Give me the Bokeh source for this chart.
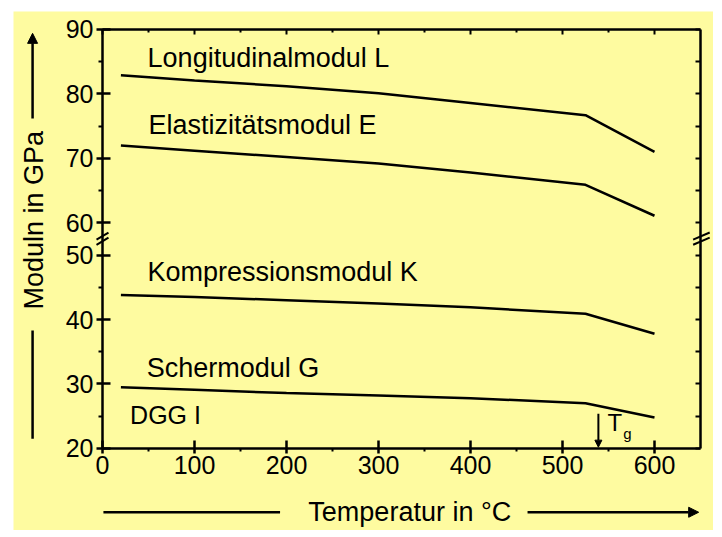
import math
from bokeh.plotting import figure
from bokeh.models import (LinearAxis, FixedTicker, Arrow, NormalHead, Label,
                          ColumnDataSource, Range1d)
from bokeh.embed import file_html
from bokeh.resources import INLINE

# ---------------- data ----------------
temperature = [20, 100, 200, 300, 400, 525, 600]
longitudinal_L = [82.9, 82.1, 81.2, 80.1, 78.6, 76.7, 71.0]
elastic_E = [72.0, 71.2, 70.2, 69.2, 67.8, 65.9, 61.1]
compression_K = [43.8, 43.5, 43.0, 42.5, 41.9, 40.9, 37.8]
shear_G = [29.5, 29.1, 28.6, 28.2, 27.8, 27.0, 24.8]

series_names = ["Longitudinalmodul L", "Elastizitätsmodul E",
                "Kompressionsmodul K", "Schermodul G"]
sample_name = "DGG I"
tg_temperature = 539

x_ticks = [0, 100, 200, 300, 400, 500, 600]
x_minor = [50, 150, 250, 350, 450, 550]
y_ticks = [20, 30, 40, 50, 60, 70, 80, 90]
y_minor = [25, 35, 45, 65, 75, 85]

X_MIN, X_MAX = 0, 650
Y_MIN, Y_MAX = 20, 90

# broken y axis: 50 .. 60 is compressed into a small gap
BREAK_LOW, BREAK_HIGH, GAP = 50, 60, 5


def brk(v):
    return v if v <= BREAK_LOW else v - (BREAK_HIGH - BREAK_LOW) + GAP


FONT = "Liberation Sans"
BG = "#FEFBA0"
INK = "black"

# The frame spans the whole canvas; the axes are pinned at the data
# extent (fixed_location) so that titles and arrows can be drawn around them.
p = figure(width=700, height=519, margin=(11, 0, 0, 13),
           x_range=Range1d(-96.74, 664.13), y_range=Range1d(7.27, 87.79),
           output_backend="svg", toolbar_location=None,
           background_fill_color=BG, border_fill_color=BG,
           min_border=0, min_border_left=0, min_border_right=0,
           min_border_top=0, min_border_bottom=0)
p.title.visible = False
p.outline_line_color = None
p.xgrid.visible = False
p.ygrid.visible = False

AX_W = 2.5
y_tick_pos = [brk(t) for t in y_ticks]
y_minor_pos = [brk(t) for t in y_minor]

# left axis
ya = p.yaxis[0]
ya.fixed_location = X_MIN
ya.bounds = (brk(Y_MIN), brk(Y_MAX))
ya.ticker = FixedTicker(ticks=y_tick_pos, minor_ticks=y_minor_pos)
ya.major_label_overrides = {brk(t): str(t) for t in y_ticks}
ya.axis_line_width = AX_W
ya.major_tick_line_width = AX_W
ya.minor_tick_line_width = 2
ya.major_tick_in = 8
ya.major_tick_out = 6
ya.minor_tick_in = 0
ya.minor_tick_out = 4
ya.major_label_standoff = 3
ya.major_label_text_font = FONT
ya.major_label_text_font_size = "25px"
ya.major_label_text_color = INK

# bottom axis
xa = p.xaxis[0]
xa.fixed_location = brk(Y_MIN)
xa.bounds = (X_MIN, X_MAX)
xa.ticker = FixedTicker(ticks=x_ticks, minor_ticks=x_minor)
xa.axis_line_width = AX_W
xa.major_tick_line_width = AX_W
xa.minor_tick_line_width = 2
xa.major_tick_in = 8
xa.major_tick_out = 5
xa.minor_tick_in = 0
xa.minor_tick_out = 3
xa.major_label_standoff = 3
xa.major_label_text_font = FONT
xa.major_label_text_font_size = "25px"
xa.major_label_text_color = INK

# right axis (ticks only)
ra = LinearAxis(ticker=FixedTicker(ticks=y_tick_pos, minor_ticks=y_minor_pos),
                fixed_location=X_MAX, bounds=(brk(Y_MIN), brk(Y_MAX)))
ra.major_label_overrides = {t: "" for t in y_tick_pos}
ra.axis_line_width = AX_W
ra.major_tick_line_width = 2
ra.minor_tick_line_width = 2
ra.major_tick_in = 5
ra.major_tick_out = 0
ra.minor_tick_in = 5
ra.minor_tick_out = 0
p.add_layout(ra, "right")

# top axis (ticks only)
ta = LinearAxis(ticker=FixedTicker(ticks=x_ticks, minor_ticks=x_minor),
                fixed_location=brk(Y_MAX), bounds=(X_MIN, X_MAX))
ta.major_label_overrides = {t: "" for t in x_ticks}
ta.axis_line_width = AX_W
ta.major_tick_line_width = 2
ta.minor_tick_line_width = 2
ta.major_tick_in = 5
ta.major_tick_out = 0
ta.minor_tick_in = 3
ta.minor_tick_out = 0
p.add_layout(ta, "above")

# data lines
for vals in (longitudinal_L, elastic_E, compression_K, shear_G):
    src = ColumnDataSource(dict(x=temperature, y=[brk(v) for v in vals]))
    p.line("x", "y", source=src, line_width=2.5, line_color=INK)

# series labels
label_pos = [(49, 80.65), (50, 70.15), (49, 47.35), (48, 32.55)]
for name, (lx, ly) in zip(series_names, label_pos):
    p.add_layout(Label(x=lx, y=ly, text=name, text_font=FONT,
                       text_font_size="27px", text_color=INK,
                       text_baseline="alphabetic", text_align="left"))
p.add_layout(Label(x=30, y=25.15, text=sample_name, text_font=FONT,
                   text_font_size="25px", text_color=INK,
                   text_baseline="alphabetic", text_align="left"))

# Tg marker
p.add_layout(Arrow(x_start=tg_temperature, y_start=25.4,
                   x_end=tg_temperature, y_end=20.2, line_width=2,
                   line_color=INK,
                   end=NormalHead(size=7, fill_color=INK, line_color=INK)))
p.add_layout(Label(x=549, y=24.05, text="T", text_font=FONT,
                   text_font_size="24px", text_color=INK,
                   text_baseline="alphabetic"))
p.add_layout(Label(x=566, y=22.3, text="g", text_font=FONT,
                   text_font_size="15px", text_color=INK,
                   text_baseline="alphabetic"))

# axis titles with arrow lines
p.add_layout(Label(x=-74, y=55.4, text="Moduln in GPa", text_font=FONT,
                   text_font_size="27px", text_color=INK, angle=math.pi / 2,
                   text_align="center", text_baseline="middle"))
p.add_layout(Arrow(x_start=-76, y_start=71.2, x_end=-76, y_end=84.4,
                   line_width=2.5, line_color=INK,
                   end=NormalHead(size=10, fill_color=INK, line_color=INK)))
p.add_layout(Arrow(x_start=-76, y_start=21.5, x_end=-76, y_end=38.3,
                   line_width=2.5, line_color=INK, end=None))

p.add_layout(Label(x=334, y=10.1, text="Temperatur in °C", text_font=FONT,
                   text_font_size="27px", text_color=INK, text_align="center",
                   text_baseline="middle"))
p.add_layout(Arrow(x_start=1, y_start=10.1, x_end=193, y_end=10.1,
                   line_width=2.5, line_color=INK, end=None))
p.add_layout(Arrow(x_start=462, y_start=10.1, x_end=648, y_end=10.1,
                   line_width=2.5, line_color=INK,
                   end=NormalHead(size=10, fill_color=INK, line_color=INK)))

# axis break marks
for (x0, x1) in ((-6.5, 6.5), (642, 660)):
    for dy in (0.0, -0.8):
        p.add_layout(Arrow(x_start=x0, y_start=52.4 + dy, x_end=x1,
                           y_end=53.5 + dy, line_width=2, line_color=INK,
                           end=None))

open("out.html", "w").write(file_html(p, INLINE))
